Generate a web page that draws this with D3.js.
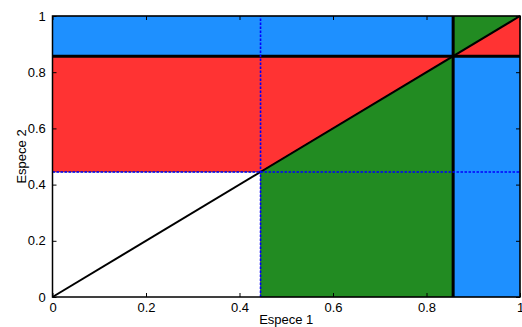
<!DOCTYPE html>
<html><head><meta charset="utf-8">
<script src="https://cdn.jsdelivr.net/npm/d3@7"></script>
<style>body{margin:0;background:#fff}svg{display:block}text{font-family:"Liberation Sans",Arial,sans-serif;fill:#000}</style>
</head><body><svg id="c" width="522" height="327"></svg>
<script>
const xTicks = [0, 0.2, 0.4, 0.6, 0.8, 1];
const yTicks = [0, 0.2, 0.4, 0.6, 0.8, 1];
const xTickLabels = ["0", "0.2", "0.4", "0.6", "0.8", "1"];
const yTickLabels = ["0", "0.2", "0.4", "0.6", "0.8", "1"];
const lowThreshold = 0.445;
const highThreshold = 0.857;
const regionColors = ["#1E90FF", "#1E90FF", "#FF3333", "#228B22", "#228B22", "#FF3333"];
const regionPolygons = [
  [[0, highThreshold], [highThreshold, highThreshold], [highThreshold, 1], [0, 1]],
  [[highThreshold, 0], [1, 0], [1, highThreshold], [highThreshold, highThreshold]],
  [[0, lowThreshold], [lowThreshold, lowThreshold], [highThreshold, highThreshold], [0, highThreshold]],
  [[lowThreshold, 0], [highThreshold, 0], [highThreshold, highThreshold], [lowThreshold, lowThreshold]],
  [[highThreshold, highThreshold], [1, 1], [highThreshold, 1]],
  [[highThreshold, highThreshold], [1, highThreshold], [1, 1]]
];
const xLabel = "Espece 1";
const yLabel = "Espece 2";

const svg = d3.select("#c");
const L = 52.5, R = 520, T = 16, B = 297;
const x = d3.scaleLinear().domain([0, 1]).range([L, R]);
const y = d3.scaleLinear().domain([0, 1]).range([B, T]);
const line = d3.line().x(d => x(d[0])).y(d => y(d[1]));

svg.selectAll("path.region").data(regionPolygons).join("path")
  .attr("class", "region")
  .attr("d", d => line(d) + "Z")
  .attr("fill", (d, i) => regionColors[i])
  .attr("stroke", "#000").attr("stroke-width", 0.5);

// diagonal
svg.append("path").attr("d", line([[0, 0], [1, 1]]))
  .attr("stroke", "#000").attr("stroke-width", 2).attr("fill", "none");

// thick lines
svg.append("path").attr("d", line([[0, highThreshold], [1, highThreshold]]))
  .attr("stroke", "#000").attr("stroke-width", 3).attr("fill", "none");
svg.append("path").attr("d", line([[highThreshold, 0], [highThreshold, 1]]))
  .attr("stroke", "#000").attr("stroke-width", 3).attr("fill", "none");

// dotted lines
svg.append("path").attr("d", line([[lowThreshold, 0], [lowThreshold, 1]]))
  .attr("stroke", "#0000FF").attr("stroke-width", 1.6).attr("stroke-dasharray", "2.5,1.5").attr("fill", "none");
svg.append("path").attr("d", line([[0, lowThreshold], [1, lowThreshold]]))
  .attr("stroke", "#0000FF").attr("stroke-width", 1.6).attr("stroke-dasharray", "2.5,1.5").attr("fill", "none");

// axes
const tl = 4;
const gx = svg.append("g").attr("transform", `translate(0,${B})`)
  .call(d3.axisBottom(x).tickValues(xTicks).tickFormat((d, i) => xTickLabels[i]).tickSizeInner(-tl).tickSizeOuter(0).tickPadding(8));
const gxt = svg.append("g").attr("transform", `translate(0,${T})`)
  .call(d3.axisTop(x).tickValues(xTicks).tickFormat("").tickSizeInner(-tl).tickSizeOuter(0));
const gy = svg.append("g").attr("transform", `translate(${L},0)`)
  .call(d3.axisLeft(y).tickValues(yTicks).tickFormat((d, i) => yTickLabels[i]).tickSizeInner(-tl).tickSizeOuter(0).tickPadding(8));
const gyr = svg.append("g").attr("transform", `translate(${R},0)`)
  .call(d3.axisRight(y).tickValues(yTicks).tickFormat("").tickSizeInner(-tl).tickSizeOuter(0));
[gx, gxt, gy, gyr].forEach(g => {
  g.select(".domain").remove();
  g.selectAll(".tick line").attr("stroke", "#000").attr("stroke-width", 1);
  g.selectAll("text").attr("font-size", 13).attr("font-family", "Liberation Sans, Arial, sans-serif").attr("fill", "#000");
});
gx.selectAll("text").attr("dy", "0.55em");
gy.selectAll("text").attr("dx", "0.1em");

svg.append("rect").attr("x", L).attr("y", T).attr("width", R - L).attr("height", B - T)
  .attr("fill", "none").attr("stroke", "#000").attr("stroke-width", 1.5);

svg.append("text").attr("x", (L + R) / 2).attr("y", 324).attr("text-anchor", "middle")
  .attr("font-size", 13).text(xLabel);
svg.append("text").attr("transform", `translate(26,${(T + B) / 2}) rotate(-90)`)
  .attr("text-anchor", "middle").attr("font-size", 13).text(yLabel);
</script></body></html>
